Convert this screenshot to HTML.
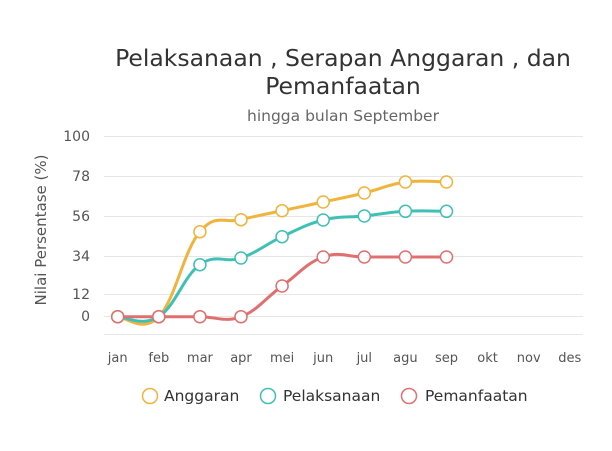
<!DOCTYPE html>
<html><head><meta charset="utf-8"><style>
html,body{margin:0;padding:0;background:#fff;}
svg{display:block;font-family:"DejaVu Sans","Liberation Sans",sans-serif;}
</style></head><body>
<svg id="s" width="612" height="451" viewBox="0 0 612 451">
<rect width="612" height="451" fill="#fff"/>
<text x="343" y="66" text-anchor="middle" font-size="23.5" fill="#333">Pelaksanaan , Serapan Anggaran , dan</text>
<text x="343" y="94" text-anchor="middle" font-size="23.5" fill="#333">Pemanfaatan</text>
<text x="343" y="121" text-anchor="middle" font-size="15.5" fill="#666">hingga bulan September</text>
<g stroke="#e6e6e6" stroke-width="1">
<line x1="104" x2="583" y1="136.5" y2="136.5"/><line x1="104" x2="583" y1="176.5" y2="176.5"/>
<line x1="104" x2="583" y1="216.5" y2="216.5"/><line x1="104" x2="583" y1="256.5" y2="256.5"/>
<line x1="104" x2="583" y1="294.5" y2="294.5"/><line x1="104" x2="583" y1="316.5" y2="316.5"/>
<line x1="104" x2="583" y1="334.5" y2="334.5"/>
</g>
<g font-size="14" fill="#555" text-anchor="end">
<text x="90" y="141">100</text><text x="90" y="181">78</text><text x="90" y="221">56</text>
<text x="90" y="261">34</text><text x="90" y="299">12</text><text x="90" y="321">0</text>
</g>
<text transform="translate(46,230) rotate(-90)" text-anchor="middle" font-size="15" fill="#555">Nilai Persentase (%)</text>
<g font-size="13" fill="#555" text-anchor="middle" id="xl"></g>
<g id="series"></g>
<g font-size="15.5" fill="#333">
<circle cx="150" cy="396" r="7.5" fill="#fff" stroke="#f0b43c" stroke-width="1.5"/><text x="164" y="401">Anggaran</text>
<circle cx="268" cy="396" r="7.5" fill="#fff" stroke="#3fc0b5" stroke-width="1.5"/><text x="283" y="401">Pelaksanaan</text>
<circle cx="409" cy="396" r="7.5" fill="#fff" stroke="#e07070" stroke-width="1.5"/><text x="425" y="401">Pemanfaatan</text>
</g>
</svg>
<script>
var ns="http://www.w3.org/2000/svg";
var xs=[],m=["jan","feb","mar","apr","mei","jun","jul","agu","sep","okt","nov","des"];
for(var i=0;i<12;i++)xs.push(117.7+i*41.1);
var xl=document.getElementById("xl");
m.forEach(function(t,i){var e=document.createElementNS(ns,"text");e.setAttribute("x",xs[i]);e.setAttribute("y",362);e.textContent=t;xl.appendChild(e);});
var data=[
["#e07070",[316.7,316.7,316.7,316.7,286,257,257,257,257]],
["#3fc0b5",[316.7,316.7,264.7,258,236.7,220,216,211.3,211.3]],
["#f0b43c",[316.7,316.7,231.7,219.7,210.7,202,193,182,182]]];
var g=document.getElementById("series");
data.reverse().forEach(function(d){
 var ys=d[1],n=ys.length,p="M"+xs[0]+","+ys[0];
 for(var i=0;i<n-1;i++){
  var y0=ys[Math.max(i-1,0)],y1=ys[i],y2=ys[i+1],y3=ys[Math.min(i+2,n-1)];
  var x0=xs[Math.max(i-1,0)],x1=xs[i],x2=xs[i+1],x3=xs[Math.min(i+2,n-1)];
  var t=0.2;
  p+=" C"+(x1+(x2-x0)*t)+","+(y1+(y2-y0)*t)+" "+(x2-(x3-x1)*t)+","+(y2-(y3-y1)*t)+" "+x2+","+y2;
 }
 var pa=document.createElementNS(ns,"path");pa.setAttribute("d",p);pa.setAttribute("fill","none");
 pa.setAttribute("stroke",d[0]);pa.setAttribute("stroke-width","3");g.appendChild(pa);
 ys.forEach(function(y,i){var c=document.createElementNS(ns,"circle");c.setAttribute("cx",xs[i]);c.setAttribute("cy",y);
 c.setAttribute("r",6);c.setAttribute("fill","#fff");c.setAttribute("stroke",d[0]);c.setAttribute("stroke-width","1.5");g.appendChild(c);});
});
</script>
</body></html>
